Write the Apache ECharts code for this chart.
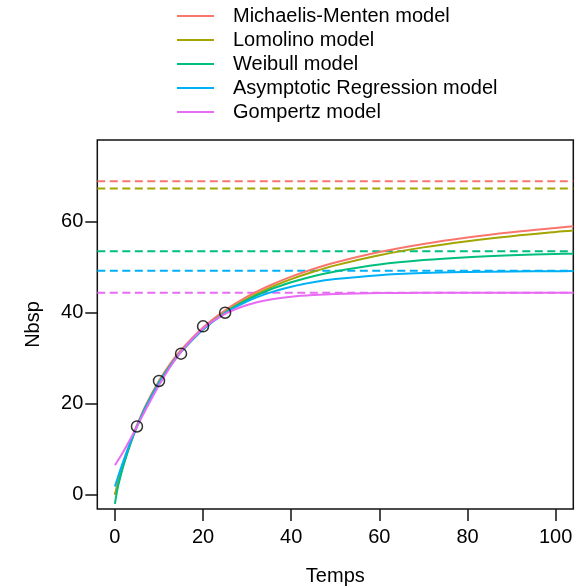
<!DOCTYPE html>
<html>
<head>
<meta charset="utf-8">
<script src="https://cdn.jsdelivr.net/npm/echarts@6/dist/echarts.min.js"></script>
<style>
  html, body { margin: 0; padding: 0; background: #fff; }
  #chart { width: 583px; height: 588px; }
</style>
</head>
<body>
<div id="chart"></div>
<script>
// Sampling times for the fitted accumulation curves
const temps = [0, 0.5, 1, 2, 3, 4, 5, 7, 10, 12.5, 15, 20, 25, 30, 35, 40, 45, 50, 60, 70, 80, 90, 100, 104];

// Fitted species-accumulation curves (number of species vs time)
const michaelisMenten = [0, 1.91, 3.72, 7.07, 10.08, 12.82, 15.31, 19.69, 25.05, 28.71, 31.80, 36.75, 40.53, 43.52, 45.93, 47.93, 49.61, 51.04, 53.34, 55.12, 56.53, 57.68, 58.64, 58.98];
const lomolino = [0, 1.81, 3.56, 6.83, 9.81, 12.52, 15.00, 19.36, 24.72, 28.36, 31.44, 36.35, 40.10, 43.04, 45.42, 47.37, 49.01, 50.40, 52.64, 54.36, 55.72, 56.82, 57.74, 58.05];
const weibull = [-2.0, 0.86, 3.01, 6.65, 9.75, 12.51, 15.00, 19.33, 24.66, 28.29, 31.38, 36.30, 40.00, 42.81, 44.99, 46.68, 48.02, 49.08, 50.59, 51.56, 52.20, 52.62, 52.90, 52.98];
const asymptoticReg = [1.8, 3.32, 4.80, 7.60, 10.23, 12.70, 15.00, 19.19, 24.52, 28.24, 31.40, 36.35, 39.93, 42.51, 44.37, 45.72, 46.69, 47.39, 48.26, 48.71, 48.94, 49.07, 49.13, 49.15];
const gompertz = [6.5, 7.23, 8.00, 9.63, 11.35, 13.15, 15.00, 18.72, 24.05, 28.00, 31.40, 36.51, 39.75, 41.71, 42.86, 43.52, 43.90, 44.12, 44.31, 44.37, 44.39, 44.40, 44.40, 44.40];

// Estimated asymptotes (horizontal dashed lines), one per model
const asymptotes = [68.9, 67.3, 53.5, 49.2, 44.4];

const modelNames = ['Michaelis-Menten model', 'Lomolino model', 'Weibull model', 'Asymptotic Regression model', 'Gompertz model'];
const modelColors = ['#F8766D', '#A3A500', '#00BF7D', '#00B0F6', '#E76BF3'];

// Observed counts
const obsTemps = [5, 10, 15, 20, 25];
const obsNbsp = [15, 25, 31, 37, 40];

// Axis tick labels
const xTicks = [0, 20, 40, 60, 80, 100];
const yTicks = [0, 20, 40, 60];

const FONT = "'Liberation Sans', Arial, Helvetica, sans-serif";
const modelCurves = [michaelisMenten, lomolino, weibull, asymptoticReg, gompertz];

const series = [];
// dashed asymptotes first so the curves sit on top
modelCurves.forEach((ys, i) => {
  series.push({
    type: 'line',
    data: [[-4, asymptotes[i]], [104, asymptotes[i]]],
    showSymbol: false,
    silent: true,
    lineStyle: { color: modelColors[i], width: 2, type: [8, 4.5] },
    z: 2
  });
});
modelCurves.forEach((ys, i) => {
  series.push({
    name: modelNames[i],
    type: 'line',
    data: temps.map((t, k) => [t, ys[k]]),
    smooth: 0.35,
    showSymbol: false,
    color: modelColors[i],
    lineStyle: { color: modelColors[i], width: 2 },
    z: 3
  });
});
series.push({
  type: 'scatter',
  data: obsTemps.map((t, k) => [t, obsNbsp[k]]),
  symbol: 'circle',
  symbolSize: 11,
  itemStyle: { color: 'rgba(0,0,0,0)', borderColor: '#000', borderWidth: 1.5 },
  z: 5
});

const chart = echarts.init(document.getElementById('chart'), null, { renderer: 'canvas' });
chart.setOption({
  animation: false,
  backgroundColor: '#fff',
  textStyle: { fontFamily: FONT },
  grid: {
    left: 97.3, right: 9.7, top: 140, bottom: 79,
    show: true, borderColor: '#111', borderWidth: 1.5, backgroundColor: 'transparent'
  },
  legend: {
    data: modelNames,
    orient: 'vertical',
    left: 177, top: 4,
    padding: 0,
    itemGap: 0,
    itemWidth: 37,
    itemHeight: 2,
    icon: 'rect',
    selectedMode: false,
    textStyle: { fontFamily: FONT, fontSize: 20, color: '#000', lineHeight: 24, padding: [0, 0, 0, 14] }
  },
  xAxis: {
    type: 'value', min: -4, max: 104,
    axisLine: { show: false, onZero: false },
    splitLine: { show: false },
    axisTick: { show: true, length: 12, inside: false, customValues: xTicks, lineStyle: { color: '#111', width: 1.5 } },
    axisLabel: { customValues: xTicks, fontFamily: FONT, fontSize: 20, color: '#000', margin: 18 }
  },
  yAxis: {
    type: 'value', min: -3.14, max: 77.96,
    axisLine: { show: false, onZero: false },
    splitLine: { show: false },
    axisTick: { show: true, length: 12, inside: false, customValues: yTicks, lineStyle: { color: '#111', width: 1.5 } },
    axisLabel: { customValues: yTicks, fontFamily: FONT, fontSize: 20, color: '#000', margin: 14 }
  },
  graphic: [
    { type: 'text', x: 335.3, y: 576, style: { text: 'Temps', font: '20px ' + FONT, fill: '#000', align: 'center', verticalAlign: 'middle' }, silent: true },
    { type: 'text', x: 33, y: 324.5, rotation: Math.PI / 2, style: { text: 'Nbsp', font: '20px ' + FONT, fill: '#000', align: 'center', verticalAlign: 'middle' }, silent: true }
  ],
  series: series
});
</script>
</body>
</html>
